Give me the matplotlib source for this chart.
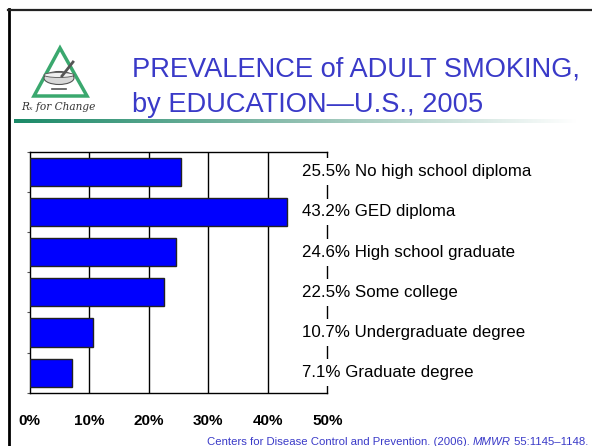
import numpy as np
import matplotlib
matplotlib.use("Agg")
import matplotlib.pyplot as plt
from matplotlib.colors import LinearSegmentedColormap
from matplotlib.patches import Polygon, Ellipse

categories = ["No high school diploma", "GED diploma", "High school graduate",
              "Some college", "Undergraduate degree", "Graduate degree"]
values = [25.5, 43.2, 24.6, 22.5, 10.7, 7.1]
xticks = [0, 10, 20, 30, 40, 50]
xtick_labels = ["0%", "10%", "20%", "30%", "40%", "50%"]

title1 = "PREVALENCE of ADULT SMOKING,"
title2 = "by EDUCATION\u2014U.S., 2005"

plt.rcParams['font.family'] = ['Liberation Sans', 'DejaVu Sans']

W, H = 592, 446
fig = plt.figure(figsize=(W / 100, H / 100), dpi=100)

def fx(px):
    return px / W

def fy(py):
    return 1 - py / H

# slide frame
fig.add_artist(plt.Line2D([fx(8.5), fx(8.5)], [fy(9), fy(446)], color='black', lw=2))
fig.add_artist(plt.Line2D([fx(8), fx(592)], [fy(10), fy(10)], color='#222222', lw=1.6))

# title
title_color = '#3a3ac8'
fig.text(fx(132), fy(76), title1, fontsize=19.6, color=title_color, va='baseline', ha='left')
fig.text(fx(132), fy(112), title2, fontsize=19.6, color=title_color, va='baseline', ha='left')

# gradient rule under the title
gax = fig.add_axes([fx(14), fy(123), fx(577) - fx(14), fy(119) - fy(123)])
cmap = LinearSegmentedColormap.from_list('rule', ['#1b8a68', '#8fbfb0', '#ffffff'])
gax.imshow(np.linspace(0, 1, 256).reshape(1, -1), aspect='auto', cmap=cmap)
gax.set_axis_off()

# logo (triangle, mortar, text)
lax = fig.add_axes([fx(18), fy(115), fx(98) - fx(18), fy(42) - fy(115)])
lax.set_xlim(18, 98)
lax.set_ylim(115, 42)
lax.set_axis_off()
lax.add_patch(Polygon([[60, 48], [34, 96], [87, 96]], closed=True, fill=False,
                      edgecolor='#3aa86e', lw=2.5, joinstyle='miter'))
lax.add_patch(Ellipse((59, 78), 30, 13, facecolor='#d8d8d8', edgecolor='#555555', lw=0.8))
lax.add_patch(Ellipse((59, 75), 30, 5, facecolor='#f0f0f0', edgecolor='#555555', lw=0.6))
lax.plot([62, 73], [76, 62], color='#555555', lw=2)
lax.plot([52, 66], [89, 89], color='#555555', lw=1.2)
lax.text(58, 107, "R\u2093 for Change", fontsize=7.6, style='italic', family='DejaVu Serif',
         ha='center', va='center', color='#333333')

# bar chart
ax = fig.add_axes([fx(29.5), fy(392.7), fx(327.3) - fx(29.5), fy(151.7) - fy(392.7)])
y = np.arange(len(categories))
ax.barh(y, values, height=0.7, color='#0000ff', edgecolor='#222222', linewidth=1, zorder=3)
ax.set_xlim(0, 50)
ax.set_ylim(len(categories) - 0.5, -0.5)
ax.set_xticks(xticks)
ax.set_xticklabels(xtick_labels, fontsize=11, fontweight='bold')
ax.tick_params(axis='x', length=0, pad=15)
ax.set_yticks(np.arange(len(categories) + 1) - 0.5)
ax.set_yticklabels([])
ax.tick_params(axis='y', length=2, width=0.8, direction='out', color='#555555')
for t in xticks[1:-1]:
    ax.axvline(t, color='black', lw=1, zorder=1)
for s in ax.spines.values():
    s.set_linewidth(1)
    s.set_color('black')

for i, (c, v) in enumerate(zip(categories, values)):
    ax.text(0.916, i, f"{v}% {c}", transform=ax.get_yaxis_transform(), fontsize=12.2,
            ha='left', va='center', clip_on=False, zorder=5,
            bbox=dict(boxstyle='square,pad=0.35', facecolor='white', edgecolor='none'))

# source line with italic journal name
fig.canvas.draw()
renderer = fig.canvas.get_renderer()
src_color = '#3a3ac8'
parts = [("Centers for Disease Control and Prevention. (2006). ", 'normal'),
         ("MMWR", 'italic'), (" 55:1145\u20131148.", 'normal')]
xpos = fx(207)
for txt, st in parts:
    t = fig.text(xpos, fy(442), txt, fontsize=8.2, style=st, color=src_color,
                 va='center', ha='left')
    bb = t.get_window_extent(renderer)
    xpos += bb.width / W

fig.savefig("out.png", dpi=100)
